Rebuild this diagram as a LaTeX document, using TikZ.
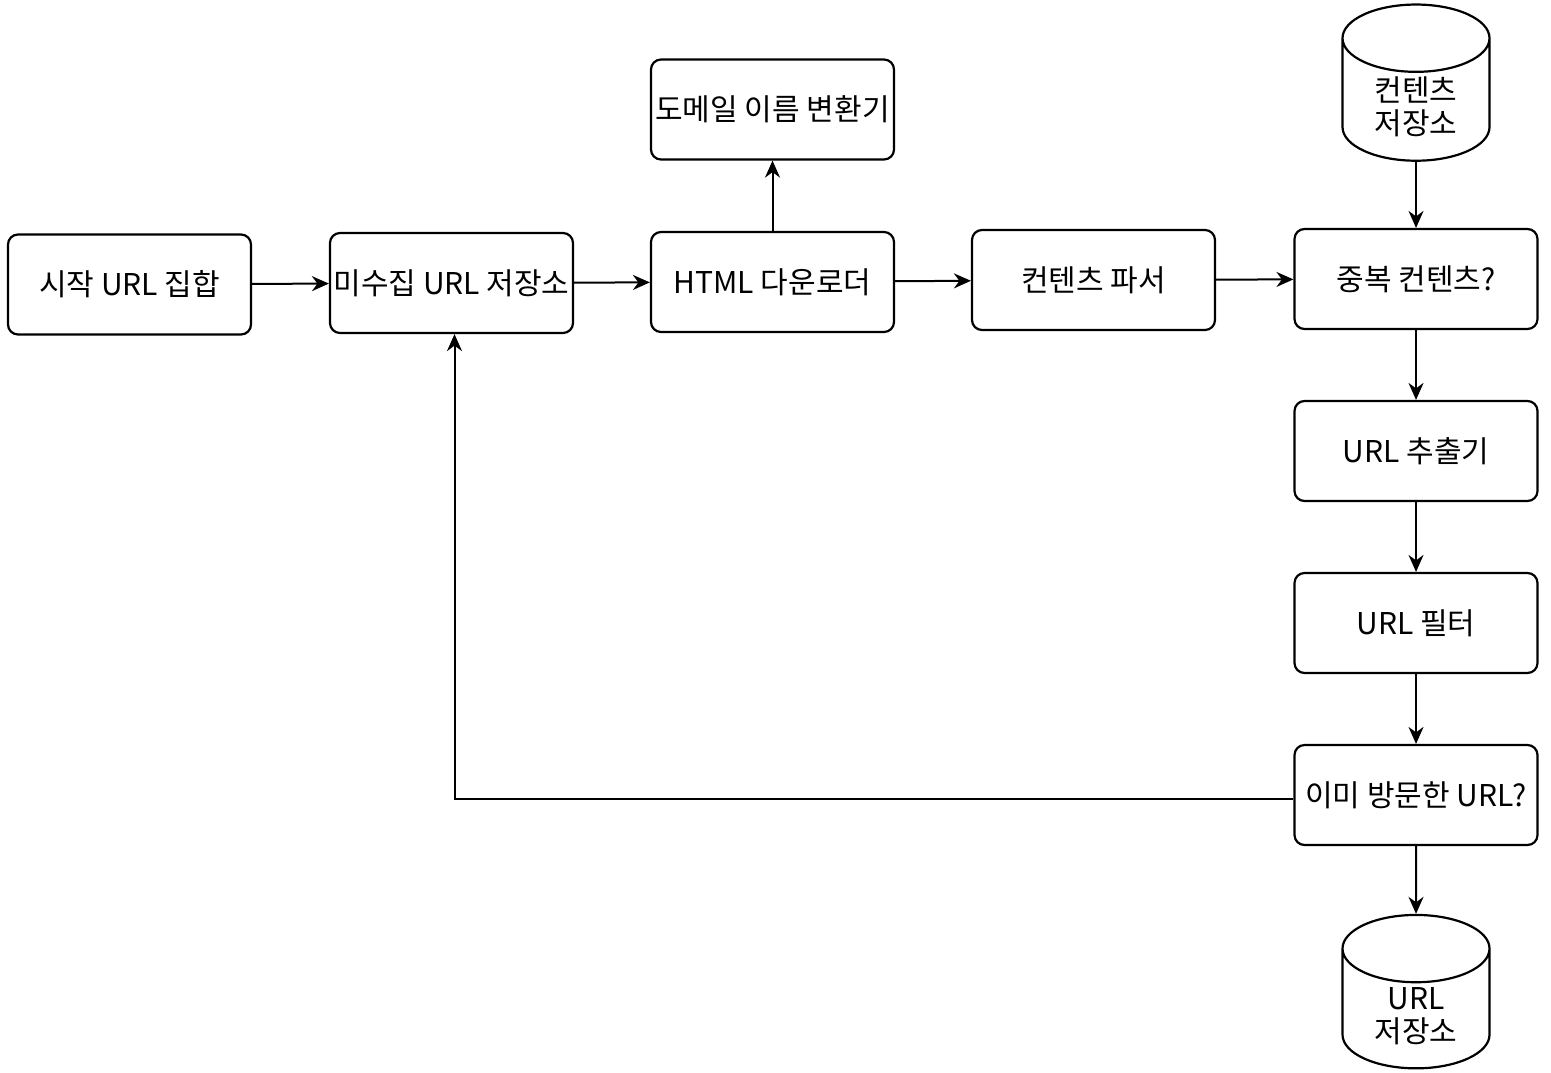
\documentclass[tikz,border=0pt]{standalone}
\usepackage{fontspec}
\setmainfont{Noto Sans CJK KR}
\usepackage{tikz}
\usetikzlibrary{positioning}
\usetikzlibrary{arrows.meta}
\usetikzlibrary{shapes.geometric}
\tikzset{
  stageNode/.style={%
    rectangle, rounded corners=5pt, draw, line width=1.1pt,
    minimum width=121.5pt, minimum height=50pt, align=center,
    inner xsep=1pt, font=\fontsize{15pt}{17pt}\selectfont,
  },
  storeNode/.style={%
    cylinder, shape border rotate=90, aspect=0.7, draw, line width=1.1pt,
    minimum width=73.5pt, minimum height=75pt, align=center,
    inner ysep=2pt, font=\fontsize{15pt}{16.5pt}\selectfont,
  },
  flowEdge/.style={%
    -{Stealth[length=8.5pt,width=7.5pt]}, line width=1pt,
  }
}
\begin{document}
\begin{tikzpicture}[x=0.5pt,y=-0.5pt]
          \useasboundingbox (0,0) rectangle (1551,1072);

          \node[stageNode] (seed) at (129.5,284.5) {시작 URL 집합};
          \node[stageNode] (frontier) at (451.5,283) {미수집 URL 저장소};
          \node[stageNode] (html) at (772.5,282) {HTML 다운로더};
          \node[stageNode] (dns) at (772.5,109.5) {도메일 이름 변환기};
          \node[stageNode] (parser) at (1093.5,280) {컨텐츠 파서};
          \node[stageNode] (dup) at (1416,279) {중복 컨텐츠?};
          \node[stageNode] (extract) at (1416,451) {URL 추출기};
          \node[stageNode] (filter) at (1416,623) {URL 필터};
          \node[stageNode] (seen) at (1416,795) {이미 방문한 URL?};
          \node[storeNode] (content) at (1416,107) {컨텐츠\\저장소};
          \node[storeNode] (urlstore) at (1416,1016) {URL\\저장소};

          \draw[flowEdge] (seed) -- (frontier);
          \draw[flowEdge] (frontier) -- (html);
          \draw[flowEdge] (html) -- (dns);
          \draw[flowEdge] (html) -- (parser);
          \draw[flowEdge] (parser) -- (dup);
          \draw[flowEdge] (content) -- (dup);
          \draw[flowEdge] (dup) -- (extract);
          \draw[flowEdge] (extract) -- (filter);
          \draw[flowEdge] (filter) -- (seen);
          \draw[flowEdge] (seen) -- (urlstore);
          \draw[flowEdge] ([yshift=-2pt]seen.west) -| ([xshift=1.5pt]frontier.south);
        \end{tikzpicture}
\end{document}
